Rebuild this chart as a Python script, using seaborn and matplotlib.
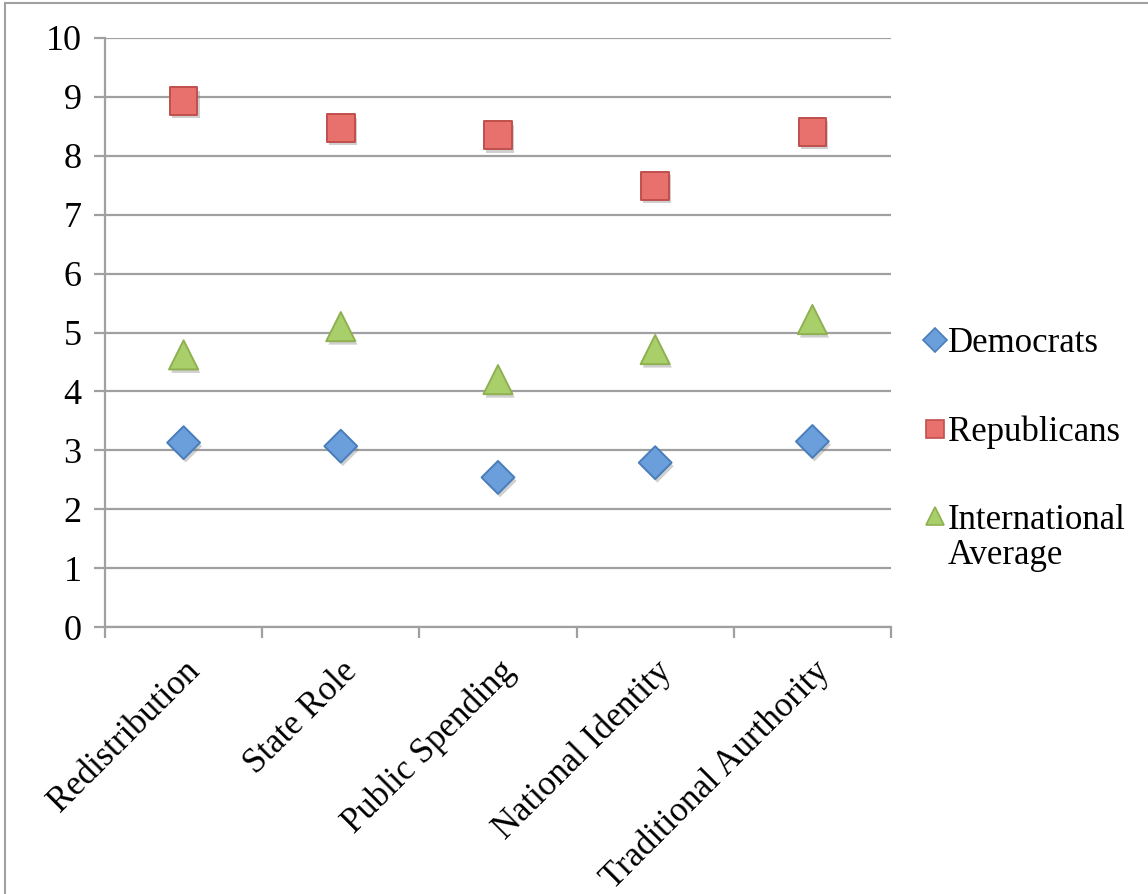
import matplotlib
matplotlib.use("Agg")
import matplotlib.pyplot as plt
import matplotlib.patheffects as pe
from matplotlib.patches import Rectangle
from matplotlib.lines import Line2D
from matplotlib.ticker import FixedLocator
import seaborn as sns
import pandas as pd

categories = ["Redistribution", "State Role", "Public Spending",
              "National Identity", "Traditional Aurthority"]
democrats = [3.13, 3.07, 2.54, 2.79, 3.15]
republicans = [8.93, 8.47, 8.35, 7.49, 8.41]
international_average = [4.62, 5.10, 4.20, 4.71, 5.22]
series_names = ["Democrats", "Republicans", "International\nAverage"]
y_ticks = list(range(0, 11))

sns.set_theme(style="white")
plt.rcParams["font.family"] = ["Liberation Serif", "DejaVu Serif"]
plt.rcParams["text.color"] = "black"

W, H, DPI = 1148, 894, 100
fig = plt.figure(figsize=(W / DPI, H / DPI), dpi=DPI)
ax = fig.add_axes([105 / W, 1 - 627 / H, (891 - 105) / W, (627 - 38) / H])

# marker, fill, edge, scatter size, legend marker size
styles = [
    ("D", "#6a9fdb", "#4a7ebb", 280, 12),
    ("s", "#e8706d", "#c0504d", 400, 12.5),
    ("^", "#a9cf6a", "#8fb050", 440, 13.5),
]
values = [democrats, republicans, international_average]

shadow = [pe.SimplePatchShadow(offset=(1.5, -2.5), shadow_rgbFace="#777777", alpha=0.35),
          pe.Normal()]

for name, vals, (mk, face, edge, size, _) in zip(series_names, values, styles):
    df = pd.DataFrame({"category": categories, "value": vals})
    sns.scatterplot(data=df, x="category", y="value", marker=mk, s=size,
                    color=face, edgecolor=edge, linewidth=1.4, ax=ax,
                    zorder=3, path_effects=shadow, legend=False)

ax.set_xlim(-0.5, len(categories) - 0.5)
ax.set_ylim(0, 10)
ax.set_yticks(y_ticks)
ax.set_xticks(range(len(categories)))
ax.set_xticklabels(categories, rotation=45, ha="right", rotation_mode="anchor")
ax.xaxis.set_minor_locator(FixedLocator([i - 0.5 for i in range(len(categories) + 1)]))
ax.set_xlabel("")
ax.set_ylabel("")

grid_c = "#a0a0a0"
ax.yaxis.grid(True, color=grid_c, linewidth=1.6)
ax.xaxis.grid(False)
ax.set_axisbelow(True)
for side in ["top", "right"]:
    ax.spines[side].set_visible(False)
for side in ["left", "bottom"]:
    ax.spines[side].set_color(grid_c)
    ax.spines[side].set_linewidth(1.6)

ax.tick_params(axis="y", which="major", left=True, length=8, width=1.6,
               color=grid_c, labelsize=26, pad=9, labelcolor="black")
ax.tick_params(axis="x", which="major", bottom=False, labelsize=25,
               pad=14, labelcolor="black")
ax.tick_params(axis="x", which="minor", bottom=True, length=8, width=1.6,
               color=grid_c)

# Legend: markers sit beside the first line of each label; the second line
# of the last entry is set directly beneath it.
legend_labels = [n.split("\n")[0] for n in series_names]
handles = [Line2D([], [], linestyle="none", marker=mk, markersize=ms,
                  markerfacecolor=face, markeredgecolor=edge, markeredgewidth=1.2)
           for (mk, face, edge, size, ms) in styles]
leg = ax.legend(handles, legend_labels, loc="center left",
                bbox_to_anchor=(1.027, 0.331), frameon=False, fontsize=25,
                handlelength=0.5, handletextpad=0.13, labelspacing=1.58,
                borderaxespad=0, labelcolor="black")
last_text = leg.get_texts()[-1]
ax.annotate(series_names[-1].split("\n")[1], xy=(0, 0), xycoords=last_text,
            xytext=(0, -2), textcoords="offset points", ha="left", va="top",
            fontsize=25, color="black", annotation_clip=False, zorder=10)

fig.patches.append(Rectangle((5 / W, -0.1), 2, 1 - 3 / H + 0.1,
                             transform=fig.transFigure, fill=False,
                             edgecolor="#a0a0a0", linewidth=1.5))

fig.savefig("out.png", dpi=DPI, facecolor="white")
